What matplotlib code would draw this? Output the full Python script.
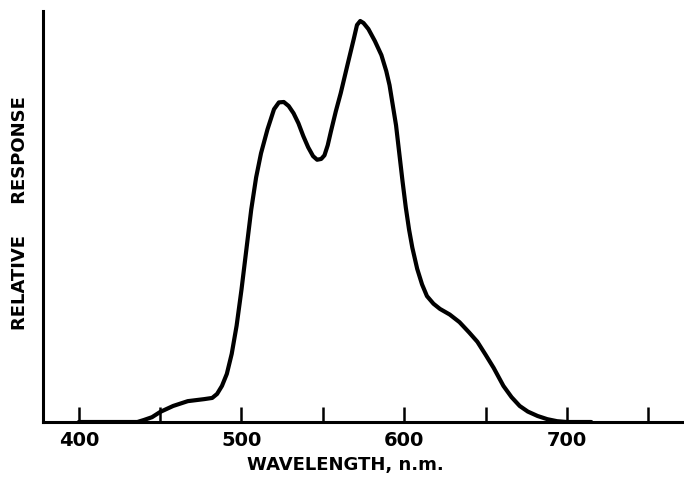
import numpy as np
from matplotlib import pyplot as plt
from matplotlib.ticker import MultipleLocator


# Wavelength (nm) and relative response (peak = 100)
wavelength = [400, 436, 440, 445, 450, 458, 467, 477, 482, 485, 488, 491,
              494, 497, 500, 503, 506, 509, 512, 516, 520, 523, 526, 529,
              532, 535, 538, 541, 544, 546.5, 549, 551, 553, 555, 558, 561,
              565, 569, 571, 573, 575, 578, 582, 586, 589, 591, 593, 595,
              597, 599, 601, 603, 605, 608, 611, 614, 618, 622, 628, 634,
              640, 645, 650, 655, 661, 666, 671, 676, 682, 688, 694, 700, 715]
response = [0, 0, 0.5, 1.2, 2.5, 4.0, 5.2, 5.7, 6.0, 7.0, 9.0, 12.0,
            17.0, 24.0, 33.0, 43.0, 53.0, 61.0, 67.0, 73.0, 78.0, 79.7, 79.8, 78.8,
            77.0, 74.5, 71.3, 68.5, 66.3, 65.4, 65.6, 66.5, 69.0, 72.5, 77.5, 82.0,
            88.8, 95.5, 99.0, 100.0, 99.5, 98.0, 95.0, 91.5, 87.5, 84.0, 79.0, 74.0,
            67.0, 60.0, 53.5, 48.0, 43.5, 38.2, 34.3, 31.4, 29.5, 28.2, 26.8, 24.9,
            22.3, 20.0, 16.8, 13.5, 9.0, 6.2, 4.0, 2.6, 1.5, 0.7, 0.2, 0, 0]

major_ticks = [400, 500, 600, 700]
tick_labels = ["400", "500", "600", "700"]


fig = plt.figure(figsize=(6.84, 4.81), dpi=100)
ax = fig.add_axes([43 / 684, 58 / 481, 1 - 43 / 684, 411 / 481])

ax.plot(wavelength, response, color="black", linewidth=3.0,
        solid_joinstyle="round", solid_capstyle="round")

ax.set_xlim(378, 772)
ax.set_ylim(0, 411 / 4.01)

for side in ["top", "right"]:
    ax.spines[side].set_visible(False)
for side in ["left", "bottom"]:
    ax.spines[side].set_linewidth(2.2)

ax.set_xticks(major_ticks)
ax.set_xticklabels(tick_labels, fontsize=14, fontweight="bold")
ax.xaxis.set_minor_locator(MultipleLocator(50))
ax.tick_params(axis="x", which="both", direction="in", length=11, width=1.8, pad=6)
ax.set_yticks([])

fig.text(345 / 684, 1 - 465 / 481, "WAVELENGTH, n.m.", ha="center", va="center",
         fontsize=13, fontweight="bold")
fig.text(20 / 684, 1 - 213 / 481, "RELATIVE     RESPONSE", ha="center", va="center",
         rotation=90, fontsize=13, fontweight="bold")

fig.savefig("out.png", dpi=100)
